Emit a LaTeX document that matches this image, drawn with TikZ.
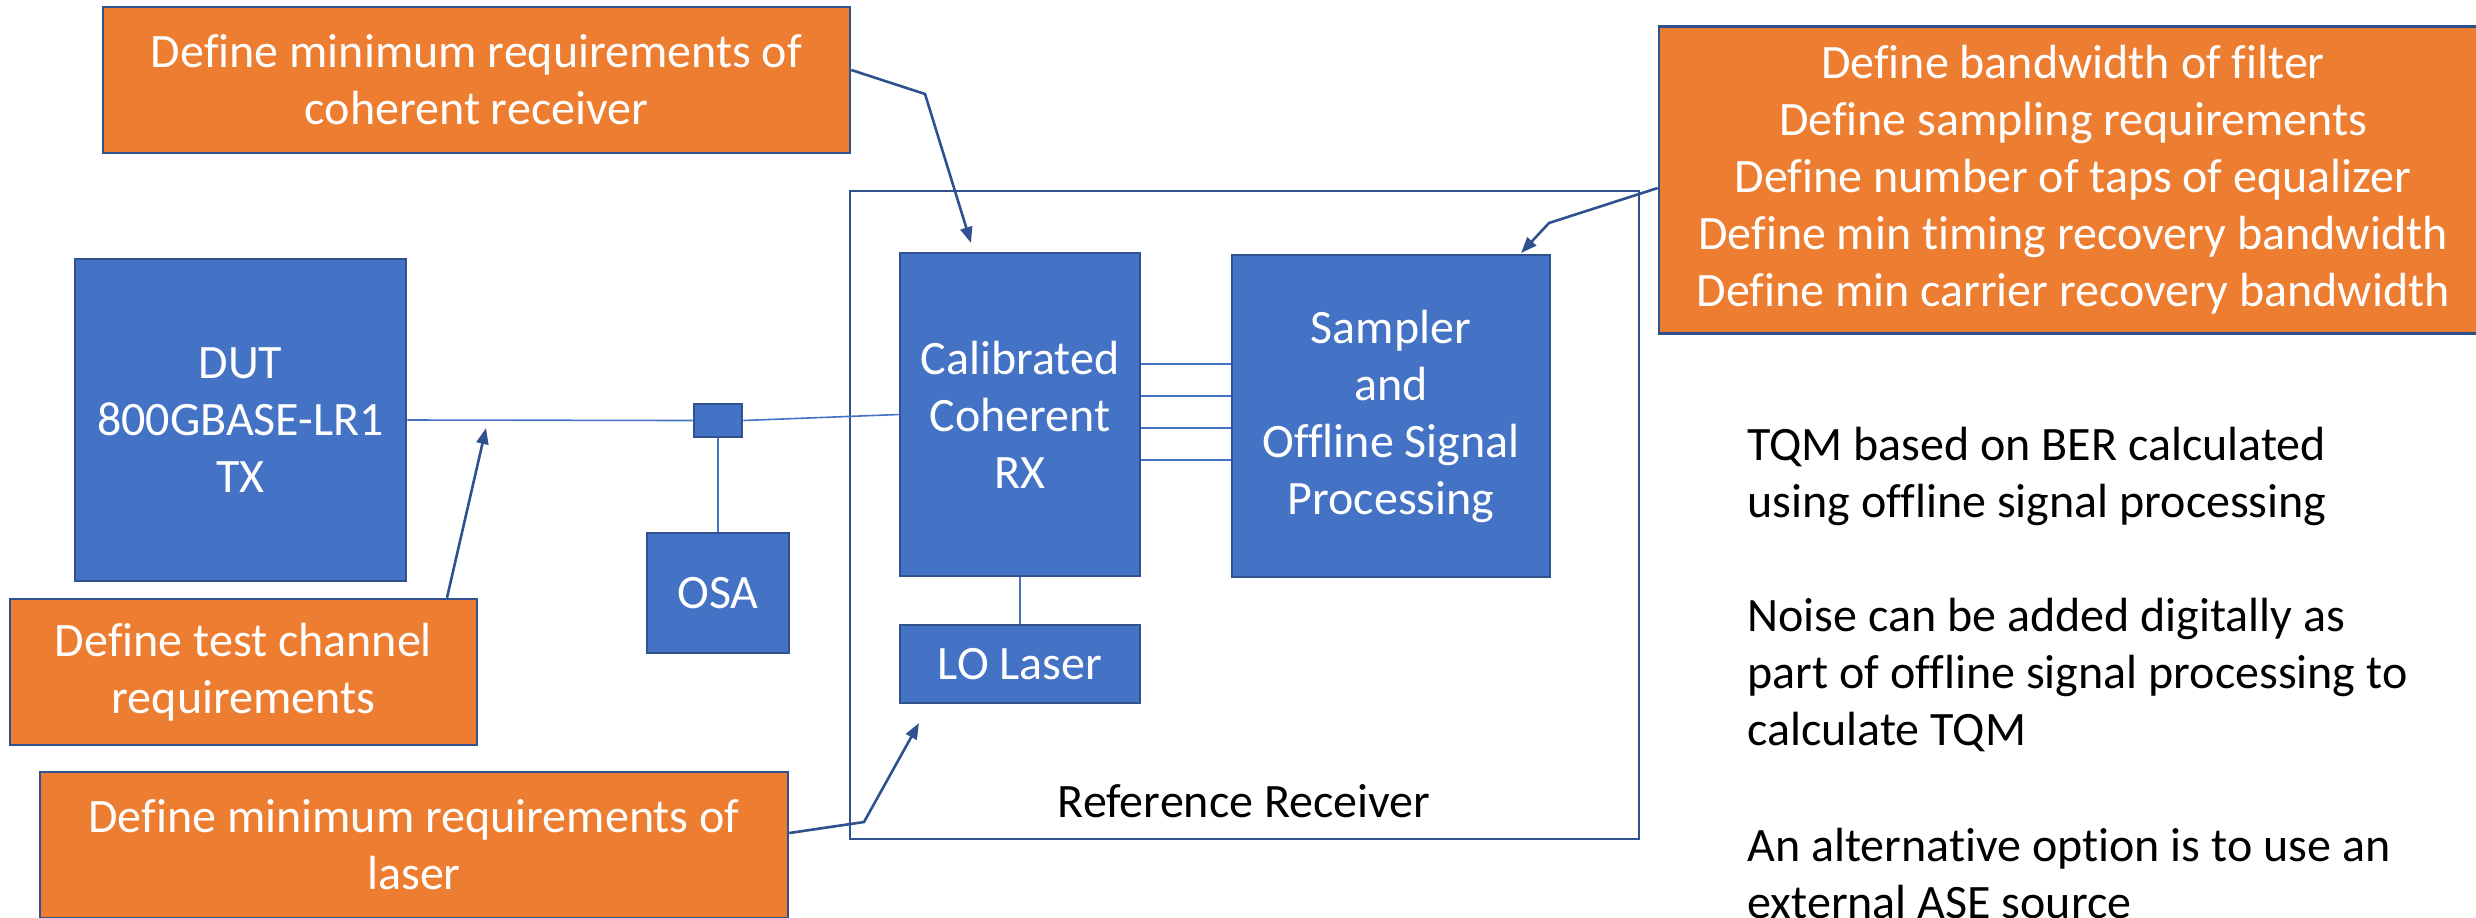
\documentclass[tikz,border=0pt]{standalone}
\usepackage{fontspec}
\setmainfont{Carlito}[Ligatures=NoCommon]
\usetikzlibrary{arrows.meta}
\definecolor{boxblue}{HTML}{4472C4}
\definecolor{edgeblue}{HTML}{2F528F}
\definecolor{boxorange}{HTML}{ED7D31}
\begin{document}
\begin{tikzpicture}[x=0.5pt,y=-0.5pt,
  every node/.style={font=\fontsize{24}{28.5}\selectfont},
  bluebox/.style={draw=edgeblue, line width=1.3pt, fill=boxblue, text=white, align=center, inner sep=0pt},
  orangebox/.style={draw=edgeblue, line width=1.3pt, fill=boxorange, text=white, align=center, inner sep=0pt},
  framebox/.style={draw=edgeblue, line width=1.2pt, inner sep=0pt},
  conn/.style={draw=boxblue, line width=0.8pt},
  callout/.style={draw=edgeblue, line width=1.3pt, -{Triangle[length=8pt,width=6pt]}},
  plain/.style={text=black, inner sep=0pt}
]
\useasboundingbox (0,0) rectangle (2476,917);
\clip (0,0) rectangle (2476,917);
\fill[white] (0,0) rectangle (2476,917);

% frame
\node[framebox, minimum width=394.5pt, minimum height=324pt] (refrx) at (1244.5,515) {};
\node[plain, anchor=base] (reflabel) at (1244,817) {Reference Receiver};

% blue boxes
\node[bluebox, minimum width=165.5pt, minimum height=161pt] (dut) at (240.5,420) {DUT\\800GBASE-LR1\\TX};
\node[bluebox, minimum width=120pt, minimum height=161.5pt] (rx) at (1020,414.5) {Calibrated\\Coherent\\RX};
\node[bluebox, minimum width=159pt, minimum height=161pt] (samp) at (1391,416) {Sampler\\and\\Offline Signal\\Processing};
\node[bluebox, minimum width=120pt, minimum height=39pt] (lo) at (1020,664) {LO Laser};
\node[bluebox, minimum width=71pt, minimum height=60pt] (osa) at (718,593) {OSA};
\node[bluebox, minimum width=24pt, minimum height=16.5pt] (sq) at (718,420.5) {};

% connections
\draw[conn] (dut.east) -- (sq.west);
\draw[conn] (sq.east) -- (rx.west);
\draw[conn] (sq.south) -- (osa.north);
\draw[conn] (rx.south) -- (lo.north);
\foreach \yy in {364,396,428,460} \draw[conn] (rx.east |- 0,\yy) -- (samp.west |- 0,\yy);

% orange boxes
\node[orangebox, minimum width=373.5pt, minimum height=73pt] (topbox) at (476.5,80) {Define minimum requirements of\\coherent receiver};
\node[orangebox, minimum width=414pt, minimum height=153.5pt] (rbox) at (2073,180) {Define bandwidth of filter\\Define sampling requirements\\Define number of taps of equalizer\\Define min timing recovery bandwidth\\Define min carrier recovery bandwidth};
\node[orangebox, minimum width=233.5pt, minimum height=73pt] (testbox) at (243.5,672) {Define test channel\\requirements};
\node[orangebox, minimum width=374pt, minimum height=73pt] (laserbox) at (414,845) {Define minimum requirements of\\laser};

% callout arrows
\coordinate (b1) at (925,94);
\coordinate (t1) at (971,243);
\draw[callout] ([yshift=5pt]topbox.east) -- (b1) -- (t1);
\coordinate (b2) at (1549,223);
\coordinate (t2) at (1521,253);
\draw[callout] ([yshift=-4pt]rbox.west) -- (b2) -- (t2);
\coordinate (t3) at (486,428);
\draw[callout] ([xshift=101.75pt]testbox.north) -- (t3);
\coordinate (b4) at (864,822);
\coordinate (t4) at (919,723);
\draw[callout] ([yshift=6pt]laserbox.east) -- (b4) -- (t4);

% notes
\node[plain, anchor=base west] (n1) at (1747,460) {TQM based on BER calculated};
\node[plain, anchor=base west] (n2) at (1747,517) {using offline signal processing};
\node[plain, anchor=base west] (n3) at (1747,631) {Noise can be added digitally as};
\node[plain, anchor=base west] (n4) at (1747,688) {part of offline signal processing to};
\node[plain, anchor=base west] (n5) at (1747,745) {calculate TQM};
\node[plain, anchor=base west] (n6) at (1747,861) {An alternative option is to use an};
\node[plain, anchor=base west] (n7) at (1747,918) {external ASE source};
\end{tikzpicture}
\end{document}
